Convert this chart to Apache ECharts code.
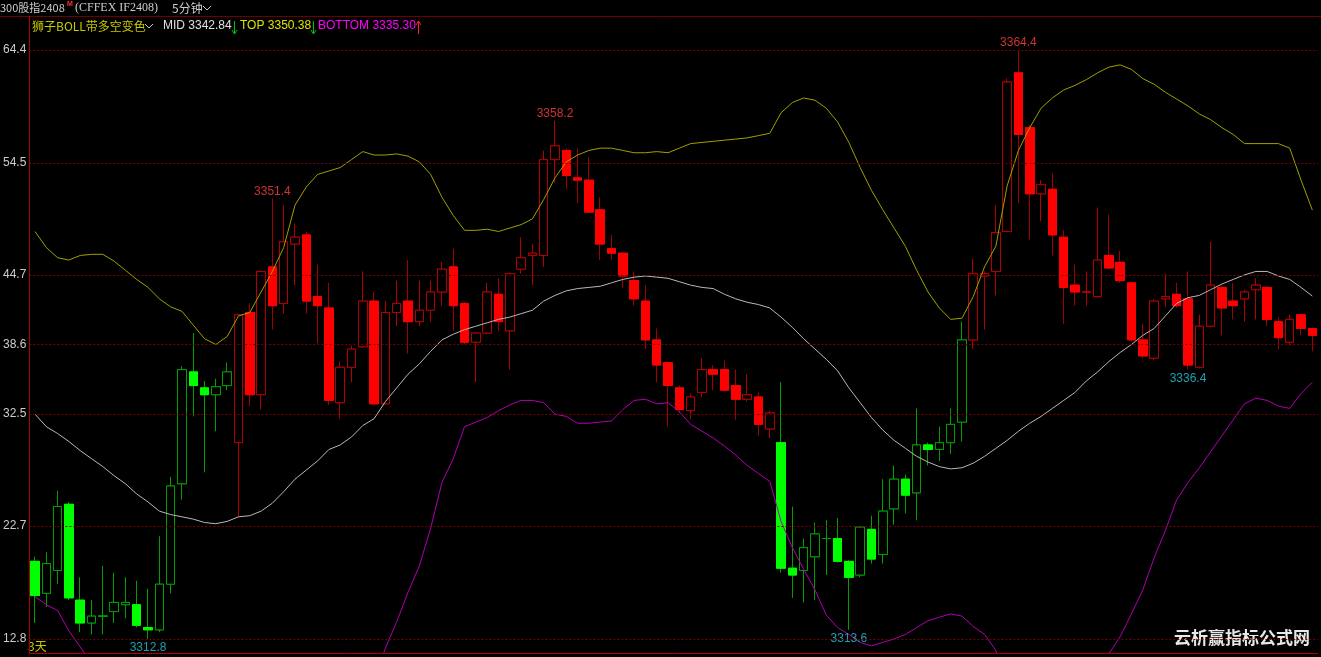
<!DOCTYPE html>
<html><head><meta charset="utf-8">
<script src="https://cdn.jsdelivr.net/npm/echarts@6/dist/echarts.min.js"></script>
<style>html,body{margin:0;padding:0;background:#000;}#c{width:1321px;height:657px;}</style>
</head><body><div id="c"></div>
<script>
// ---- data ----
const barCount = 114;
const categories = Array.from({length: barCount}, (_, i) => 'K' + (i + 1));
const openP = [3319.6,3316.8,3318.8,3324.6,3316.2,3314.2,3314.8,3315.2,3315.8,3315.8,3313.8,3313.6,3317.6,3326.4,3336.2,3334.8,3334.2,3335.0,3330.0,3341.4,
3334.2,3345.4,3342.2,3347.4,3348.2,3342.8,3341.8,3333.5,3336.6,3338.4,3342.4,3333.4,3341.4,3342.4,3340.6,3341.6,3343.2,3345.4,3342.2,3338.8,
3339.6,3343.0,3339.8,3345.2,3346.4,3346.4,3354.8,3355.6,3353.2,3353.0,3350.4,3347.0,3346.6,3344.2,3342.4,3339.0,3337.0,3334.8,3332.8,3334.4,
3336.4,3336.4,3335.0,3333.8,3334.0,3331.2,3330.0,3319.0,3318.8,3320.0,3321.6,3321.6,3319.6,3318.4,3322.4,3320.2,3324.2,3326.8,3325.6,3329.8,
3329.4,3330.0,3331.8,3339.0,3344.6,3345.0,3348.5,3362.4,3357.6,3351.8,3352.2,3348.0,3343.8,3343.2,3342.8,3346.4,3345.8,3344.0,3339.0,3337.4,
3342.6,3343.0,3342.6,3336.6,3340.2,3343.6,3342.4,3342.6,3343.4,3343.6,3340.6,3338.8,3341.2,3340.0];
const closeP = [3316.6,3319.4,3324.4,3316.4,3314.2,3314.8,3314.8,3316.0,3316.0,3314.0,3313.6,3317.6,3326.2,3336.4,3335.0,3334.2,3334.9,3336.2,3341.2,3334.2,
3345.0,3342.0,3347.6,3348.0,3342.4,3342.0,3333.7,3336.6,3338.2,3342.4,3333.4,3341.4,3342.2,3340.6,3341.6,3343.2,3345.2,3342.0,3338.8,3339.6,
3343.2,3340.6,3344.8,3346.2,3346.6,3354.8,3356.0,3353.4,3353.0,3350.2,3347.4,3346.6,3344.6,3342.6,3339.0,3336.8,3335.0,3332.9,3334.0,3336.4,
3336.0,3334.6,3333.8,3334.2,3331.6,3332.6,3319.0,3318.4,3320.8,3322.0,3321.6,3319.6,3318.2,3322.6,3319.8,3324.0,3326.8,3325.4,3329.8,3329.4,
3330.0,3331.6,3339.0,3344.8,3344.8,3348.4,3361.6,3357.0,3351.8,3352.6,3348.2,3343.6,3343.2,3343.2,3346.0,3345.3,3344.2,3339.0,3337.6,3342.4,
3342.8,3342.0,3336.8,3340.2,3343.8,3341.8,3342.0,3343.2,3343.8,3340.8,3339.2,3340.8,3340.0,3339.4];
const lowP = [3314.2,3315.6,3317.6,3316.2,3313.4,3313.2,3313.2,3314.2,3314.6,3313.8,3312.8,3313.4,3316.8,3325.0,3332.3,3327.4,3331.0,3334.6,3323.5,3333.2,
3332.9,3339.9,3341.3,3343.8,3341.3,3338.7,3333.3,3332.1,3335.3,3338.3,3333.3,3333.3,3340.2,3337.8,3340.2,3340.6,3342.0,3339.8,3338.6,3335.3,
3339.5,3339.8,3336.4,3344.8,3343.8,3345.4,3352.8,3352.2,3351.0,3350.1,3346.0,3346.0,3343.6,3342.0,3338.2,3335.3,3331.4,3332.6,3332.1,3334.0,
3334.6,3334.5,3332.0,3333.6,3330.6,3330.4,3318.6,3316.4,3316.0,3316.2,3318.4,3319.5,3313.6,3318.2,3319.4,3319.4,3322.8,3323.8,3323.2,3328.0,
3328.4,3329.0,3330.1,3338.2,3339.9,3342.9,3348.4,3351.0,3347.8,3349.4,3346.4,3340.4,3342.0,3342.0,3342.7,3345.2,3344.0,3338.9,3337.4,3337.2,
3341.9,3341.8,3336.4,3336.5,3340.1,3339.4,3340.8,3340.6,3340.8,3340.2,3338.2,3338.5,3339.4,3338.0];
const highP = [3320.0,3320.4,3325.8,3324.8,3318.2,3316.2,3319.2,3318.6,3318.2,3317.9,3317.2,3321.8,3327.0,3336.7,3339.6,3335.4,3335.6,3337.0,3341.3,3342.2,
3345.1,3351.4,3350.8,3349.2,3348.5,3345.6,3344.0,3337.1,3338.5,3345.0,3343.2,3342.4,3344.2,3346.0,3344.2,3344.2,3345.8,3347.0,3342.3,3339.7,
3344.0,3344.4,3344.9,3348.0,3347.4,3355.6,3358.2,3355.8,3355.8,3355.0,3351.5,3348.2,3346.7,3345.0,3343.8,3340.0,3337.1,3335.0,3334.3,3337.4,
3336.8,3337.2,3336.4,3336.0,3334.4,3332.8,3335.3,3324.4,3321.6,3323.0,3323.2,3323.4,3319.7,3322.7,3323.6,3326.8,3328.0,3327.2,3333.0,3330.0,
3331.4,3333.0,3340.6,3346.1,3345.0,3350.8,3361.9,3364.4,3357.8,3353.0,3353.6,3348.6,3345.6,3345.0,3350.6,3350.0,3346.8,3344.1,3340.4,3342.6,
3344.8,3344.0,3345.0,3341.2,3347.6,3343.8,3344.0,3343.4,3344.4,3343.7,3341.0,3341.2,3341.3,3340.1];
const topBand = [3348.5,3347.1,3346.2,3346.0,3346.4,3346.5,3346.5,3345.9,3345.1,3344.3,3343.6,3342.6,3341.9,3341.5,3340.3,3339.1,3338.6,3339.3,3341.1,3341.4,
3343.2,3345.0,3347.1,3350.8,3352.4,3353.5,3353.8,3354.1,3354.8,3355.5,3355.2,3355.2,3355.3,3355.1,3354.6,3353.5,3351.5,3349.9,3348.6,3348.6,
3348.7,3348.5,3348.8,3349.1,3349.6,3351.3,3353.2,3354.6,3355.2,3355.6,3355.8,3355.8,3355.6,3355.4,3355.4,3355.5,3355.4,3355.8,3356.2,3356.3,
3356.4,3356.5,3356.6,3356.7,3356.9,3357.1,3358.9,3359.8,3360.2,3360.0,3359.3,3358.1,3356.3,3354.1,3352.1,3350.4,3348.8,3347.2,3345.1,3343.2,
3341.8,3340.8,3340.9,3342.8,3345.4,3347.2,3352.5,3355.6,3357.6,3359.3,3360.2,3360.9,3361.3,3361.8,3362.4,3362.9,3363.1,3362.7,3361.9,3361.4,
3360.7,3360.1,3359.5,3358.8,3358.3,3357.6,3357.0,3356.2,3356.2,3356.2,3356.2,3355.8,3353.0,3350.38];
const midBand = [3332.5,3331.4,3330.8,3330.1,3329.3,3328.6,3327.9,3327.1,3326.4,3325.5,3324.8,3324.0,3323.7,3323.5,3323.3,3323.0,3322.9,3323.1,3323.5,3323.6,
3324.0,3324.7,3325.7,3326.8,3327.6,3328.4,3329.4,3329.8,3330.5,3331.5,3332.1,3333.6,3334.8,3336.0,3336.9,3338.0,3339.0,3339.5,3339.9,3340.2,
3340.5,3340.8,3341.0,3341.3,3341.6,3342.4,3342.9,3343.3,3343.5,3343.6,3343.7,3344.0,3344.3,3344.5,3344.6,3344.5,3344.4,3344.1,3343.8,3343.6,
3343.5,3343.0,3342.6,3342.3,3342.1,3341.8,3341.0,3340.1,3339.1,3338.2,3337.3,3336.3,3334.8,3333.5,3332.2,3331.1,3330.2,3329.5,3328.8,3328.3,
3327.9,3327.7,3327.8,3328.2,3328.8,3329.5,3330.2,3331.0,3331.7,3332.3,3333.0,3333.7,3334.4,3335.4,3336.2,3337.1,3337.9,3338.6,3339.4,3340.0,
3341.1,3342.2,3342.7,3342.9,3343.4,3343.9,3344.3,3344.7,3345.0,3345.0,3344.6,3344.3,3343.6,3342.84];
const bottomBand = [3316.5,3315.8,3315.3,3313.5,3312.1,3310.7,3309.3,3308.3,3307.7,3306.7,3306.0,3305.4,3305.5,3305.5,3306.3,3306.9,3307.2,3306.9,3305.9,3305.8,
3304.8,3304.4,3304.3,3302.8,3302.8,3303.3,3305.0,3305.5,3306.2,3307.5,3309.0,3312.0,3314.3,3316.9,3319.2,3322.5,3326.5,3328.6,3331.4,3331.8,
3332.2,3332.8,3333.3,3333.7,3333.7,3333.5,3332.5,3332.3,3331.7,3331.7,3331.8,3331.9,3332.9,3333.7,3333.8,3333.4,3333.5,3332.7,3331.6,3331.0,
3330.4,3329.7,3328.9,3328.0,3327.3,3326.6,3323.1,3320.8,3318.9,3317.1,3314.9,3313.8,3313.2,3312.5,3312.2,3312.5,3312.8,3313.2,3313.8,3314.4,
3314.7,3315.0,3314.8,3313.9,3313.2,3311.8,3307.9,3306.4,3305.8,3305.3,3305.8,3306.5,3307.5,3309.0,3310.0,3311.5,3313.0,3315.0,3317.1,3319.9,
3322.3,3325.0,3326.5,3327.8,3329.2,3330.6,3332.0,3333.4,3333.9,3333.7,3333.2,3333.0,3334.3,3335.30];
const yTicks = [3364.4, 3354.5, 3344.7, 3338.6, 3332.5, 3322.7, 3312.8];
const highMarks = [[21, 3351.4], [46, 3358.2], [87, 3364.4]];
const lowMarks = [[10, 3312.8], [72, 3313.6], [102, 3336.4]];
const redRegimes = [[18, 65], [83, 113]]; // bar index ranges coloured red (rest green)

// ---- helpers ----
const isRed = i => redRegimes.some(([a, b]) => i >= a && i <= b);
const EMPTY = ['-', '-', '-', '-'];
function regimeData(red, bodyOnly) {
  return categories.map((c, i) => {
    if (isRed(i) !== red) return EMPTY;
    const o = openP[i], cl = closeP[i];
    return bodyOnly ? [o, cl, Math.min(o, cl), Math.max(o, cl)] : [o, cl, lowP[i], highP[i]];
  });
}
function candleSeries(name, data, upBorder, downFill, downBorder, z) {
  return {
    name: name, type: 'candlestick', data: data, barWidth: 9, z: z, silent: true,
    itemStyle: {color: '#000000', color0: downFill, borderColor: upBorder, borderColor0: downBorder,
      borderColorDoji: upBorder, borderWidth: 1}
  };
}
const last = barCount - 1;
const FONT = '"Liberation Sans","Noto Sans CJK SC",sans-serif';
const CJK = '"Noto Sans CJK SC","Liberation Sans",sans-serif';
function txt(x, y, text, fill, font) {
  return {type: 'text', x: x, y: y, silent: true,
    style: {text: text, fill: fill, font: font || ('12px ' + CJK), textVerticalAlign: 'middle'}};
}
function arrow(x, down, color) {
  const y1 = 21, y2 = 34;
  const tip = down ? y2 : y1, back = down ? y2 - 4 : y1 + 4;
  return [
    {type: 'line', silent: true, shape: {x1: x, y1: y1, x2: x, y2: y2}, style: {stroke: color, lineWidth: 1}},
    {type: 'polyline', silent: true, shape: {points: [[x - 2.5, back], [x, tip], [x + 2.5, back]]}, style: {stroke: color, lineWidth: 1, fill: null}}
  ];
}

const chart = echarts.init(document.getElementById('c'), null, {renderer: 'canvas'});
chart.setOption({
  animation: false,
  backgroundColor: '#000000',
  grid: {left: 27, right: 3, top: 16, bottom: 4, containLabel: false},
  xAxis: {
    type: 'category', data: categories, boundaryGap: true,
    axisLine: {show: true, lineStyle: {color: '#b00000', width: 1}},
    axisTick: {show: false}, axisLabel: {show: false}, splitLine: {show: false}
  },
  yAxis: {
    type: 'value', min: 3311.57, max: 3367.38, position: 'left',
    axisLine: {show: true, lineStyle: {color: '#b00000', width: 1}},
    axisTick: {show: false}, splitLine: {show: false},
    axisLabel: {
      show: true, customValues: yTicks, margin: 3, color: '#cccccc',
      fontSize: 12, fontFamily: 'Liberation Sans',
      formatter: v => Number(v).toFixed(1).slice(2)
    }
  },
  graphic: [
    {type: 'line', silent: true, shape: {x1: 0, y1: 16.5, x2: 1321, y2: 16.5}, style: {stroke: '#700000', lineWidth: 1}},
    txt(0, 8, '300股指2408', '#cccccc', '11px ' + CJK),
    txt(67, 4, 'M', '#ff3030', 'bold 7px ' + FONT),
    txt(75, 8, '(CFFEX IF2408)', '#cccccc', '12px "Liberation Serif",serif'),
    txt(172, 8, '5分钟', '#cccccc'),
    {type: 'polyline', silent: true, shape: {points: [[203, 6], [207, 10], [211, 6]]}, style: {stroke: '#cccccc', lineWidth: 1, fill: null}},
    txt(32, 26, '狮子BOLL带多空变色', '#c8c800'),
    {type: 'polyline', silent: true, shape: {points: [[145, 24], [149, 28], [153, 24]]}, style: {stroke: '#cccccc', lineWidth: 1, fill: null}},
    txt(163, 26, 'MID ' + midBand[last].toFixed(2), '#e0e0e0', '12px ' + FONT),
    ...arrow(234.5, true, '#00c000'),
    txt(240, 26, 'TOP ' + topBand[last].toFixed(2), '#e0e000', '12px ' + FONT),
    ...arrow(313.5, true, '#00c000'),
    txt(318, 26, 'BOTTOM ' + bottomBand[last].toFixed(2), '#ff00ff', '12px ' + FONT),
    ...arrow(418.5, false, '#ff2020'),
    txt(28, 646, '3天', '#c8c800'),
    txt(1174, 638, '云析赢指标公式网', '#e8e8e8', 'bold 17px ' + CJK)
  ],
  series: [
    {
      name: 'grid', type: 'line', data: [], z: 1, silent: true,
      markLine: {
        silent: true, symbol: ['none', 'none'], label: {show: false},
        lineStyle: {type: [2, 2], color: '#7a0000', width: 1},
        data: yTicks.map(v => ({yAxis: v}))
      }
    },
    candleSeries('K-green', regimeData(false, false), '#00a000', '#00ff00', '#00a000', 2),
    candleSeries('K-green-body', regimeData(false, true), '#00a000', '#00ff00', '#00ff00', 2),
    candleSeries('K-red', regimeData(true, false), '#b40000', '#ff0000', '#a00000', 2),
    candleSeries('K-red-body', regimeData(true, true), '#b40000', '#ff0000', '#ff0000', 2),
    {name: 'TOP', type: 'line', data: topBand, symbol: 'none', z: 3, clip: true, silent: true,
      lineStyle: {color: '#a0a000', width: 1}},
    {name: 'MID', type: 'line', data: midBand, symbol: 'none', z: 3, clip: true, silent: true,
      lineStyle: {color: '#b8b8b8', width: 1}},
    {name: 'BOTTOM', type: 'line', data: bottomBand, symbol: 'none', z: 3, clip: true, silent: true,
      lineStyle: {color: '#b000b0', width: 1}},
    {name: 'highs', type: 'scatter', data: highMarks, symbolSize: 0.1, z: 4, silent: true,
      itemStyle: {color: 'rgba(0,0,0,0)'},
      label: {show: true, position: 'top', distance: 1, color: '#ff4040', fontSize: 12, fontFamily: 'Liberation Sans',
        formatter: p => p.value[1].toFixed(1)}},
    {name: 'lows', type: 'scatter', data: lowMarks, symbolSize: 0.1, z: 4, silent: true,
      itemStyle: {color: 'rgba(0,0,0,0)'},
      label: {show: true, position: 'bottom', distance: 3, color: '#20c8d8', fontSize: 12, fontFamily: 'Liberation Sans',
        formatter: p => p.value[1].toFixed(1)}}
  ]
});
</script>
</body></html>
